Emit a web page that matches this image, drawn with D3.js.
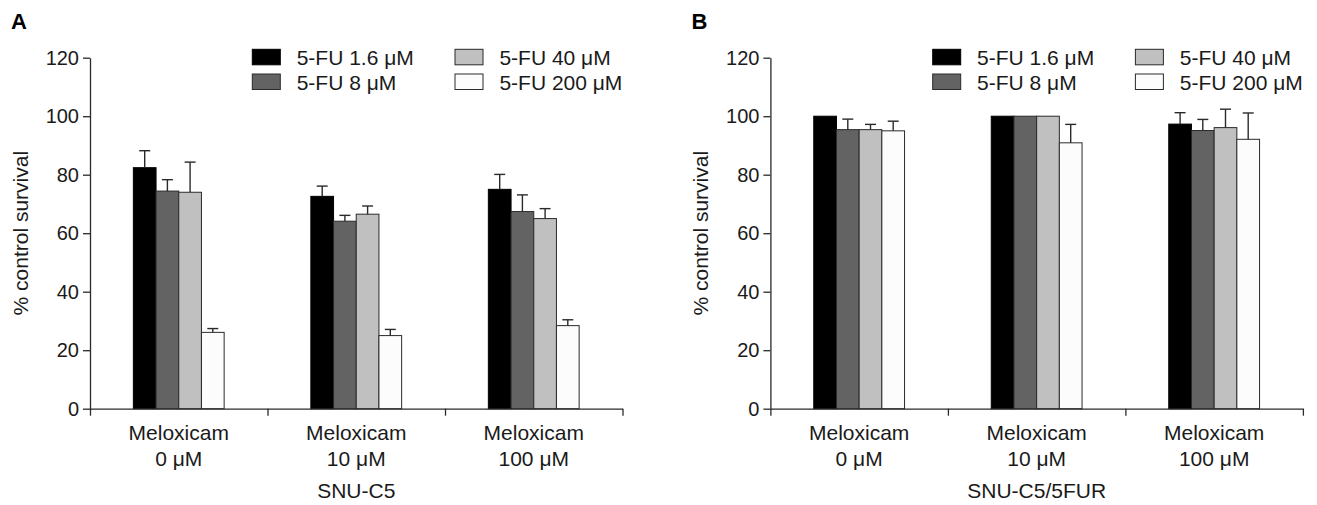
<!DOCTYPE html>
<html>
<head>
<meta charset="utf-8">
<script src="https://cdn.jsdelivr.net/npm/d3@7"></script>
<style>
  body { margin: 0; background: #ffffff; }
  svg { display: block; font-family: "Liberation Sans", Arial, Helvetica, sans-serif; }
</style>
</head>
<body>
<svg id="chart" width="1317" height="505"></svg>
<script>
// ---- data ----
const categoriesLine1 = ["Meloxicam", "Meloxicam", "Meloxicam"];
const categoriesLine2 = ["0 \u03BCM", "10 \u03BCM", "100 \u03BCM"];
const seriesNames = ["5-FU 1.6 \u03BCM", "5-FU 8 \u03BCM", "5-FU 40 \u03BCM", "5-FU 200 \u03BCM"];
const yTicks = [0, 20, 40, 60, 80, 100, 120];
const panelLetters = ["A", "B"];
const panelTitles = ["SNU-C5", "SNU-C5/5FUR"];

// values per group (Meloxicam dose) per series (5-FU dose)
const valuesA = [
  [82.4, 74.4, 74.0, 26.1],
  [72.6, 64.1, 66.5, 25.0],
  [75.0, 67.4, 65.0, 28.4]
];
const errorsA = [
  [5.8, 3.9, 10.3, 1.3],
  [3.5, 2.0, 2.8, 2.1],
  [5.1, 5.7, 3.4, 2.0]
];
const valuesB = [
  [100, 95.4, 95.4, 95.0],
  [100, 100, 100, 90.9],
  [97.3, 95.1, 96.1, 92.1]
];
const errorsB = [
  [0, 3.6, 1.8, 3.3],
  [0, 0, 0, 6.3],
  [3.9, 3.8, 6.3, 9.0]
];

// ---- styles ----
const fills = ["#000000", "#636363", "#c0c0c0", "#fcfcfc"];
const ink = "#1a1a1a";
const lineColor = "#2a2a2a";

const svg = d3.select("#chart");

const panels = [
  { dx: 0, values: valuesA, errors: errorsA, title: panelTitles[0], letter: panelLetters[0] },
  { dx: 680.4, values: valuesB, errors: errorsB, title: panelTitles[1], letter: panelLetters[1] }
];

const plotLeft = 90, plotRight = 622.5, yZero = 408.7, yTop = 57.7;
const groupIdx = [0, 1, 2];

panels.forEach(p => {
  const g = svg.append("g").attr("transform", `translate(${p.dx},0)`);

  const y = d3.scaleLinear().domain([0, 120]).range([yZero, yTop]);
  const x0 = d3.scaleBand().domain(groupIdx).range([plotLeft, plotRight]).paddingInner(0).paddingOuter(0);
  const x1 = d3.scaleBand().domain(d3.range(seriesNames.length))
    .range([0, x0.bandwidth()]).paddingInner(0).paddingOuter(1.91);
  const xb = d3.scaleLinear().domain([0, 3]).range([plotLeft, plotRight]);

  // bars
  const groups = g.append("g").selectAll("g")
    .data(groupIdx).join("g")
    .attr("transform", d => `translate(${x0(d)},0)`);

  groups.selectAll("rect")
    .data(d => p.values[d].map((v, i) => ({ v, i, e: p.errors[d][i] })))
    .join("rect")
    .attr("x", d => x1(d.i))
    .attr("y", d => y(d.v))
    .attr("width", x1.bandwidth())
    .attr("height", d => y(0) - y(d.v))
    .attr("fill", d => fills[d.i])
    .attr("stroke", d => d.i === 0 ? "#000" : lineColor)
    .attr("stroke-width", 1);

  // error bars (upper only)
  const eb = groups.selectAll("g.err")
    .data(d => p.values[d].map((v, i) => ({ v, i, e: p.errors[d][i] })).filter(d => d.e > 0))
    .join("g").attr("class", "err");
  eb.append("line")
    .attr("x1", d => x1(d.i) + x1.bandwidth() / 2)
    .attr("x2", d => x1(d.i) + x1.bandwidth() / 2)
    .attr("y1", d => y(d.v))
    .attr("y2", d => y(d.v + d.e))
    .attr("stroke", lineColor).attr("stroke-width", 1.4);
  eb.append("line")
    .attr("x1", d => x1(d.i) + x1.bandwidth() / 2 - 5.5)
    .attr("x2", d => x1(d.i) + x1.bandwidth() / 2 + 5.5)
    .attr("y1", d => y(d.v + d.e))
    .attr("y2", d => y(d.v + d.e))
    .attr("stroke", lineColor).attr("stroke-width", 1.4);

  // y axis
  const yAxis = g.append("g")
    .attr("transform", `translate(${plotLeft},0)`)
    .call(d3.axisLeft(y).tickValues(yTicks).tickSize(7).tickSizeOuter(0).tickPadding(4));
  yAxis.select(".domain").attr("stroke", lineColor).attr("stroke-width", 1.3);
  yAxis.selectAll(".tick line").attr("stroke", lineColor).attr("stroke-width", 1.3);
  yAxis.selectAll(".tick text").attr("fill", ink).attr("font-size", 20).attr("font-family", null);

  // x axis (ticks at group boundaries)
  const xAxis = g.append("g")
    .attr("transform", `translate(0,${yZero})`)
    .call(d3.axisBottom(xb).tickValues([0, 1, 2, 3]).tickFormat("").tickSize(7).tickSizeOuter(0));
  xAxis.select(".domain").attr("stroke", lineColor).attr("stroke-width", 1.3);
  xAxis.selectAll(".tick line").attr("stroke", lineColor).attr("stroke-width", 1.3);

  // category labels
  const cl = g.append("g").selectAll("text")
    .data(groupIdx).join("text")
    .attr("text-anchor", "middle")
    .attr("fill", ink)
    .attr("font-size", 21);
  cl.append("tspan")
    .attr("x", d => x0(d) + x0.bandwidth() / 2).attr("y", 440)
    .text(d => categoriesLine1[d]);
  cl.append("tspan")
    .attr("x", d => x0(d) + x0.bandwidth() / 2).attr("y", 466)
    .text(d => categoriesLine2[d]);

  // axis title (x)
  g.append("text")
    .attr("x", (plotLeft + plotRight) / 2).attr("y", 498)
    .attr("text-anchor", "middle").attr("fill", ink).attr("font-size", 21)
    .text(p.title);

  // y axis title
  g.append("text")
    .attr("transform", `translate(28,${(yZero + yTop) / 2}) rotate(-90)`)
    .attr("text-anchor", "middle").attr("fill", ink).attr("font-size", 21)
    .text("% control survival");

  // panel letter
  g.append("text")
    .attr("x", 11).attr("y", 29)
    .attr("fill", "#000").attr("font-size", 22).attr("font-weight", "bold")
    .text(p.letter);

  // legend
  const legCols = [252.3, 455];
  const legRows = [49.3, 74];
  const leg = g.append("g").selectAll("g")
    .data(seriesNames.map((s, i) => ({ s, i })))
    .join("g")
    .attr("transform", d => `translate(${legCols[Math.floor(d.i / 2)]},${legRows[d.i % 2]})`);
  leg.append("rect")
    .attr("width", 28).attr("height", 15.5)
    .attr("fill", d => fills[d.i])
    .attr("stroke", d => d.i === 0 ? "#000" : lineColor)
    .attr("stroke-width", 1);
  leg.append("text")
    .attr("x", 44.4).attr("y", 16)
    .attr("fill", ink).attr("font-size", 21)
    .text(d => d.s);
});
</script>
</body>
</html>
